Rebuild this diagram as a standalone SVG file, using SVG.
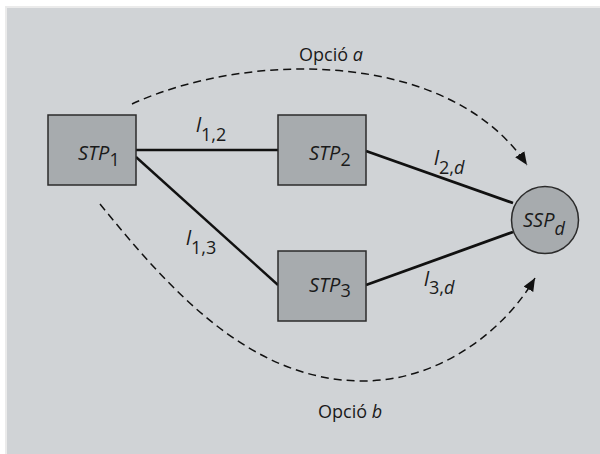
<svg xmlns="http://www.w3.org/2000/svg" width="600" height="454" viewBox="0 0 600 454">
<style>
  .box { fill: #a7abae; stroke: #2b2b2b; stroke-width: 1.5; }
  .lbl { font-family: "Open Sans", "Noto Sans", sans-serif; font-style: italic; font-size: 20px; fill: #1a1a1a; }
  .sub { font-style: normal; font-size: 18px; }
  .subi { font-style: italic; font-size: 18px; }
  .cap { font-family: "Open Sans", "Noto Sans", sans-serif; font-size: 18px; fill: #1a1a1a; }
  .link { stroke: #111; fill: none; }
  .dash { stroke: #111; fill: none; stroke-width: 1.5; stroke-dasharray: 8 5; }
</style>
<defs>
  <marker id="arr" markerWidth="14" markerHeight="12" refX="13" refY="5.5" orient="auto" markerUnits="userSpaceOnUse">
    <path d="M0,0 L13,5.5 L0,11 Z" fill="#111"/>
  </marker>
</defs>
<rect x="0" y="0" width="600" height="454" fill="#ffffff"/>
<rect x="5" y="6" width="595" height="448" fill="#ebebeb"/>
<rect x="7" y="8" width="593" height="446" fill="#d0d3d6"/>

<g id="connectors">
  <line class="link" x1="136" y1="150" x2="278" y2="150" stroke-width="2.4"/>
  <line class="link" x1="136" y1="157" x2="278" y2="285" stroke-width="2.4"/>
  <line class="link" x1="366" y1="151" x2="513" y2="203" stroke-width="2.8"/>
  <line class="link" x1="366" y1="285" x2="513" y2="232" stroke-width="2.8"/>
  <path class="dash" d="M132,104 C250,50 450,50 527,165" marker-end="url(#arr)"/>
  <path class="dash" d="M100,204 C170,290 250,381 363,381 C440,381 505,330 535,278" marker-end="url(#arr)"/>
</g>

<g id="stp1">
  <rect class="box" x="48" y="115" width="88" height="70"/>
  <text class="lbl" x="78" y="160">STP<tspan class="sub" dy="6">1</tspan></text>
</g>
<g id="stp2">
  <rect class="box" x="278" y="115" width="88" height="70"/>
  <text class="lbl" x="309" y="160">STP<tspan class="sub" dy="6">2</tspan></text>
</g>
<g id="stp3">
  <rect class="box" x="278" y="251" width="88" height="70"/>
  <text class="lbl" x="309" y="292">STP<tspan class="sub" dy="5">3</tspan></text>
</g>
<g id="sspd">
  <circle cx="545" cy="220" r="33.5" fill="#a7abae" stroke="#2b2b2b" stroke-width="1.5"/>
  <text class="lbl" x="523" y="227">SSP<tspan class="subi" dy="8">d</tspan></text>
</g>

<g id="labels">
  <text class="lbl" x="196" y="132">l<tspan class="sub" dy="9">1,2</tspan></text>
  <text class="lbl" x="186" y="245">l<tspan class="sub" dy="9">1,3</tspan></text>
  <text class="lbl" x="434" y="165">l<tspan class="sub" dy="9">2,</tspan><tspan class="subi">d</tspan></text>
  <text class="lbl" x="424" y="286">l<tspan class="sub" dy="8">3,</tspan><tspan class="subi">d</tspan></text>
  <text class="cap" x="299" y="61">Opció <tspan font-style="italic">a</tspan></text>
  <text class="cap" x="318" y="418">Opció <tspan font-style="italic">b</tspan></text>
</g>
</svg>
